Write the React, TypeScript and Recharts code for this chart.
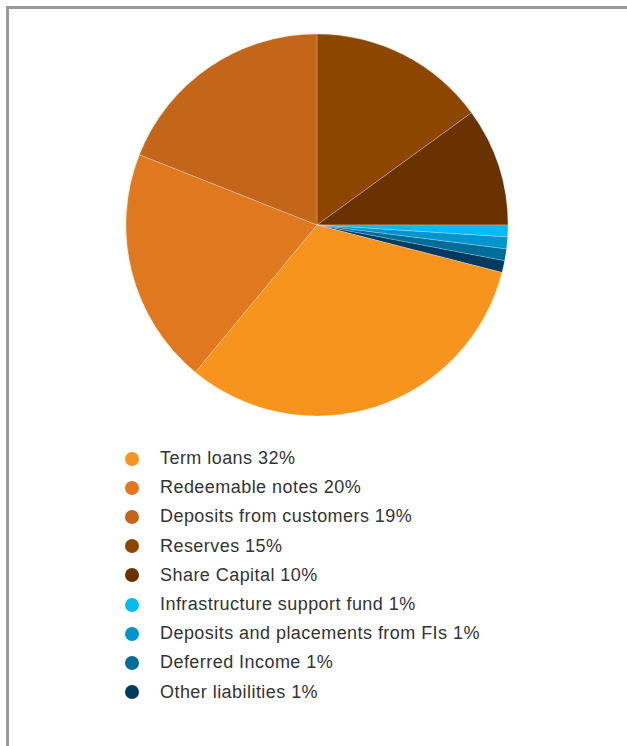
import React from 'react';
import { PieChart, Pie, Cell } from 'recharts';

// legend order
const names = [
  'Term loans',
  'Redeemable notes',
  'Deposits from customers',
  'Reserves',
  'Share Capital',
  'Infrastructure support fund',
  'Deposits and placements from FIs',
  'Deferred Income',
  'Other liabilities',
];
const values = [32, 20, 19, 15, 10, 1, 1, 1, 1];
const colors = [
  '#F7941D',
  '#E0781F',
  '#C4661A',
  '#8C4600',
  '#693200',
  '#00BCF2',
  '#0095CF',
  '#006C98',
  '#003A5C',
];
// clockwise order of slices from 12 o'clock
const sliceOrder = [3, 4, 5, 6, 7, 8, 0, 1, 2];

const legendRows = names.map((name, i) => ({ name, value: values[i], color: colors[i] }));
const pieData = sliceOrder.map(i => legendRows[i]);

export default function App() {
  return (
    <div style={{ position: 'absolute', left: 0, top: 0, width: 627, height: 746, overflow: 'hidden', background: '#fff' }}>
      <div
        style={{
          position: 'absolute',
          left: 6,
          top: 6,
          width: 800,
          height: 900,
          borderTop: '3px solid #9b9b9b',
          borderLeft: '3px solid #9b9b9b',
        }}
      />
      <div style={{ position: 'absolute', left: 0, top: 0 }}>
        <PieChart width={627} height={430} margin={{ top: 0, right: 0, bottom: 0, left: 0 }}>
          <Pie
            data={pieData}
            dataKey="value"
            nameKey="name"
            cx={317}
            cy={225}
            outerRadius={191}
            startAngle={90}
            endAngle={-270}
            stroke="#ffffff"
            strokeWidth={0.25}
            isAnimationActive={false}
          >
            {pieData.map(d => (
              <Cell key={d.name} fill={d.color} />
            ))}
          </Pie>
        </PieChart>
      </div>
      <div
        style={{
          position: 'absolute',
          left: 125,
          top: 444,
          fontFamily: '"Liberation Sans", Arial, sans-serif',
          fontSize: 18,
          letterSpacing: 0.45,
          color: '#333333',
        }}
      >
        {legendRows.map(r => (
          <div key={r.name} style={{ display: 'flex', alignItems: 'center', height: 29.2 }}>
            <span
              style={{
                display: 'inline-block',
                width: 14,
                height: 14,
                borderRadius: 7,
                background: r.color,
                marginRight: 21,
              }}
            />
            <span>{`${r.name} ${r.value}%`}</span>
          </div>
        ))}
      </div>
    </div>
  );
}
